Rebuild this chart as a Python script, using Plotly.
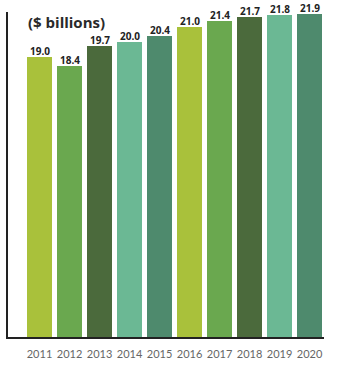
import plotly.graph_objects as go

# Annual figures, in billions of dollars
years = ["2011", "2012", "2013", "2014", "2015", "2016", "2017", "2018", "2019", "2020"]
values = [19.0, 18.4, 19.7, 20.0, 20.4, 21.0, 21.4, 21.7, 21.8, 21.9]
value_labels = ["19.0", "18.4", "19.7", "20.0", "20.4", "21.0", "21.4", "21.7", "21.8", "21.9"]

# Five-shade green palette repeated across the decade
palette = ["#a9c13b", "#6aa84f", "#4b6a3c", "#6bb894", "#4e8a6d"]
bar_colors = [palette[i % len(palette)] for i in range(len(years))]

positions = list(range(len(years)))

fig = go.Figure(
    go.Bar(
        x=positions,
        y=values,
        width=25 / 30,
        marker=dict(color=bar_colors, line=dict(width=0)),
        hoverinfo="skip",
    )
)

# Value labels just above each bar
for pos, val, lab in zip(positions, values, value_labels):
    fig.add_annotation(
        x=pos,
        y=val,
        text=lab,
        xref="x",
        yref="y",
        xanchor="center",
        yanchor="bottom",
        yshift=-2,
        showarrow=False,
        borderpad=0,
        font=dict(family="Open Sans", size=10, color="#222222", weight="bold"),
    )

fig.add_annotation(
    text="($ billions)",
    xref="paper",
    yref="paper",
    x=19 / 316,
    y=1.0,
    yshift=1,
    xanchor="left",
    yanchor="top",
    showarrow=False,
    borderpad=0,
    font=dict(family="Open Sans", size=15, color="#2a2a2a", weight="bold"),
)

fig.update_layout(
    width=340,
    height=368,
    margin=dict(l=8, r=16, t=12, b=24),
    paper_bgcolor="white",
    plot_bgcolor="white",
    showlegend=False,
    bargap=0,
    xaxis=dict(
        range=[-1.05, 9.48],
        tickmode="array",
        tickvals=positions,
        ticktext=years,
        tickfont=dict(family="Lato", size=11, color="#666666"),
        showgrid=False,
        zeroline=False,
        showline=True,
        linecolor="#222222",
        linewidth=2,
        ticks="",
        ticklabelstandoff=6,
    ),
    yaxis=dict(
        range=[0, 22.03],
        showgrid=False,
        zeroline=False,
        showticklabels=False,
        showline=True,
        linecolor="#222222",
        linewidth=2,
        ticks="",
    ),
)

fig.write_html("out.html")
